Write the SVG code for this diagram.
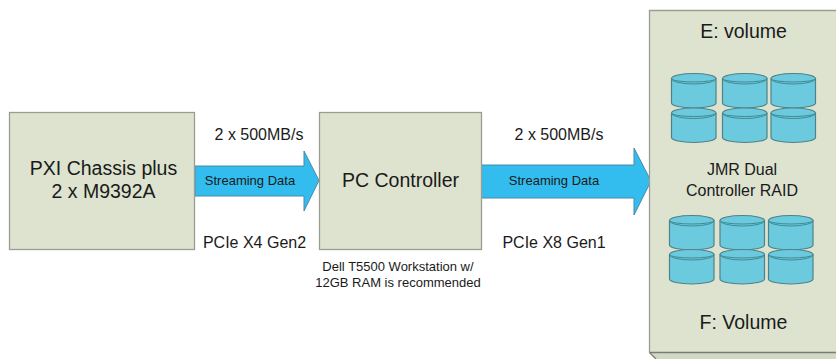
<svg xmlns="http://www.w3.org/2000/svg" width="836" height="359" viewBox="0 0 836 359">
<style>
.box{fill:#dde3cf;stroke:#9a9e92;stroke-width:1.3}
.arrow{fill:#33bdee;stroke:#4a8aa8;stroke-width:1}
.t{font-family:"Liberation Sans",Arial,sans-serif;fill:#1a1a1a;text-anchor:middle}
.cb{fill:#6ccadf;stroke:#4f8288;stroke-width:1.2}
.cl{fill:none;stroke:#3f8a92;stroke-width:1}
</style>
<defs>
<g id="cyl">
<path class="cb" d="M0 5.500A22.250 5 0 0 1 44.500 5.500V30A22.250 5 0 0 1 0 30Z"/>
<path class="cl" d="M0 5.500A22.250 3.500 0 0 0 44.500 5.500"/>
<path class="cl" d="M0 5.500A22.250 5.500 0 0 0 44.500 5.500"/>
</g>
</defs>
<rect width="836" height="359" fill="#fff"/>
<g id="connectors">
<path class="arrow" d="M195 166H304V151L319 180.500L304 211V196H195Z"/>
<path class="arrow" d="M481 165H634V148L651 181L634 215V198H481Z"/>
<text class="t" x="250" y="185" font-size="13">Streaming Data</text>
<text class="t" x="554" y="185" font-size="13">Streaming Data</text>
</g>
<g id="pxi">
<rect class="box" x="9.500" y="112.500" width="185" height="137"/>
<text class="t" x="103.500" y="175" font-size="19.500">PXI Chassis plus</text>
<text class="t" x="103.500" y="198" font-size="19.500">2 x M9392A</text>
</g>
<g id="pc">
<rect class="box" x="319.500" y="112.500" width="162" height="137"/>
<text class="t" x="400.500" y="187" font-size="19.500">PC Controller</text>
</g>
<g id="raid">
<path d="M649.500 352L656 359H836V352Z" fill="#d2d8c3"/>
<path d="M836 10.500H649.500V352.500H836Z" fill="#dde3cf" stroke="none"/>
<path d="M836 10.500H649.500V352.500" fill="none" stroke="#9a9e92" stroke-width="1.300"/>
<path d="M649.500 352.500H836" stroke="#7a7d74" stroke-width="1.300" fill="none"/>
<path d="M649.500 352.500L656 359" stroke="#7a7d74" stroke-width="1.300" fill="none"/>
<text class="t" x="743.500" y="38" font-size="19.500">E: volume</text>
<text class="t" x="742" y="175" font-size="16">JMR Dual</text>
<text class="t" x="742" y="196" font-size="16">Controller RAID</text>
<text class="t" x="743.500" y="329" font-size="19.500">F: Volume</text>
<use href="#cyl" x="671.500" y="73"/><use href="#cyl" x="722.500" y="73"/><use href="#cyl" x="771" y="73"/>
<use href="#cyl" x="671.500" y="107.500"/><use href="#cyl" x="722.500" y="107.500"/><use href="#cyl" x="771" y="107.500"/>
<use href="#cyl" x="669.500" y="215"/><use href="#cyl" x="720" y="215"/><use href="#cyl" x="768.500" y="215"/>
<use href="#cyl" x="669.500" y="249"/><use href="#cyl" x="720" y="249"/><use href="#cyl" x="768.500" y="249"/>
</g>
<g id="labels">
<text class="t" x="259" y="140" font-size="16">2 x 500MB/s</text>
<text class="t" x="559" y="140" font-size="16">2 x 500MB/s</text>
<text class="t" x="254.500" y="248" font-size="16">PCIe X4 Gen2</text>
<text class="t" x="554" y="248" font-size="16">PCIe X8 Gen1</text>
<text class="t" x="398" y="271" font-size="13">Dell T5500 Workstation w/</text>
<text class="t" x="398" y="287" font-size="13">12GB RAM is recommended</text>
</g>
</svg>
